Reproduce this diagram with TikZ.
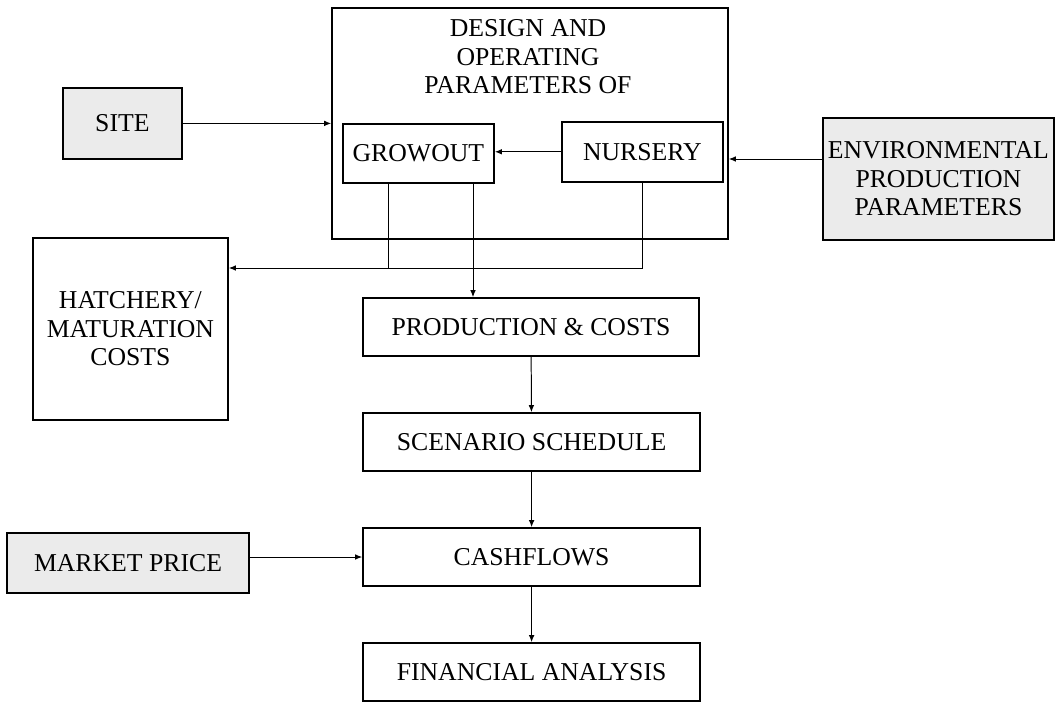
\documentclass[tikz,border=0pt]{standalone}
\usepackage{fontspec}
\setmainfont{Liberation Serif}
\usetikzlibrary{arrows.meta}

\begin{document}
\begin{tikzpicture}[
    box/.style={draw,line width=1.2pt,inner sep=0pt,align=center,
                font=\fontsize{18.3}{20.3}\selectfont},
    shaded/.style={box,fill=gray!16},
    link/.style={line width=0.7pt,-{Latex[length=5pt,width=4pt]}}]
\useasboundingbox (0,0) rectangle (26.45,17.575);
\node[shaded,minimum width=2.98cm,minimum height=1.78cm] (site) at (3.06,14.49) {SITE};
\node[box,minimum width=9.9cm,minimum height=5.78cm] (design) at (13.25,14.49) {};
\node[align=center,inner sep=0pt,font=\fontsize{18.3}{20.3}\selectfont] (title) at (13.2,16.15)
   {DESIGN AND\\OPERATING\\PARAMETERS OF};
\node[box,minimum width=3.78cm,minimum height=1.48cm] (growout) at (10.46,13.74) {GROWOUT};
\node[box,minimum width=4.03cm,minimum height=1.5cm] (nursery) at (16.06,13.78) {NURSERY};
\node[shaded,minimum width=5.78cm,minimum height=3.05cm] (env) at (23.46,13.1)
   {ENVIRONMENTAL\\PRODUCTION\\PARAMETERS};
\node[box,minimum width=4.88cm,minimum height=4.55cm] (hatchery) at (3.26,9.35)
   {HATCHERY/\\MATURATION\\COSTS};
\node[box,minimum width=8.4cm,minimum height=1.45cm] (prod) at (13.275,9.4) {PRODUCTION \& COSTS};
\node[box,minimum width=8.43cm,minimum height=1.45cm] (scen) at (13.29,6.525) {SCENARIO SCHEDULE};
\node[box,minimum width=8.43cm,minimum height=1.45cm] (cash) at (13.29,3.65) {CASHFLOWS};
\node[box,minimum width=8.43cm,minimum height=1.45cm] (fin) at (13.29,0.775) {FINANCIAL ANALYSIS};
\node[shaded,minimum width=6.05cm,minimum height=1.5cm] (market) at (3.2,3.5) {MARKET PRICE};

\coordinate (join) at (9.7,10.875);
\coordinate (gout) at (11.825,0);

\draw[link] (site.east) -- (site.east -| design.west);
\draw[link] ([yshift=0.5cm]env.west) -- ([yshift=0.5cm]env.west -| design.east);
\draw[link] (nursery.west) -- (nursery.west -| growout.east);
\draw[link] (nursery.south) |- (hatchery.east |- join);
\draw[line width=0.7pt] (growout.south -| join) -- (join);
\draw[link] (growout.south -| gout) -- (prod.north -| gout);
\draw[link] (prod) -- (scen);
\draw[link] (scen) -- (cash);
\draw[link] (cash) -- (fin);
\draw[link] (market.east |- cash.west) -- (cash.west);
\end{tikzpicture}
\end{document}
